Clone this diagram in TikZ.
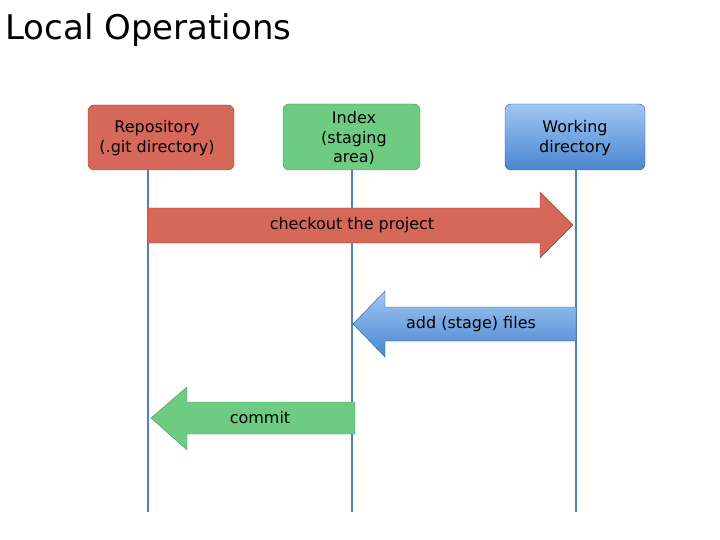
\documentclass[tikz,border=0pt]{standalone}
\usepackage{fontspec}
\setmainfont{DejaVu Sans}
\begin{document}
\begin{tikzpicture}[x=1pt,y=-1pt,
  lbl/.style={font=\fontsize{16}{19.5}\selectfont,align=center},
  life/.style={draw={rgb,255:red,79;green,129;blue,189},line width=2pt}]
\useasboundingbox (0,0) rectangle (720,540);
\definecolor{rr}{RGB}{214,104,90}
\definecolor{gg}{RGB}{110,204,130}
\definecolor{bb}{RGB}{74,134,208}
\definecolor{bl}{RGB}{160,198,242}
\node[anchor=west,font=\fontsize{34}{38}\selectfont] (t) at (2,30) {Local Operations};
% lifelines
\coordinate (r1) at (148,170); \coordinate (r2) at (148,512);
\coordinate (i1) at (352,170); \coordinate (i2) at (352,512);
\coordinate (w1) at (576,170); \coordinate (w2) at (576,512);
\draw[life] (r1)--(r2); \draw[life] (i1)--(i2); \draw[life] (w1)--(w2);
% boxes
\fill[rr,draw=rr!70!black,rounded corners=6pt] (88,105) rectangle (234,170);
\node[lbl] (rep) at (157,138) {Repository\\(.git directory)};
\fill[gg,draw=gg!70!black,rounded corners=6pt] (283,104) rectangle (420,170);
\node[lbl] (idx) at (354,138) {Index\\(staging\\area)};
\shade[top color=bl,bottom color=bb,draw=bb!70!black,rounded corners=6pt] (505,104) rectangle (645,170);
\node[lbl,text=black] (wd) at (575,138) {Working\\directory};
% arrows
\fill[rr,draw=rr!70!black] (148,208)--(540,208)--(540,192)--(573,225)--(540,258)--(540,243)--(148,243)--cycle;
\node[lbl] (a1) at (352,225) {checkout the project};
\shade[top color=bl,bottom color=bb,draw=bb!70!black] (576,307)--(385,307)--(385,291)--(353,324)--(385,357)--(385,341)--(576,341)--cycle;
\node[lbl] (a2) at (471,324) {add (stage) files};
\fill[gg,draw=gg!70!black] (355,402)--(187,402)--(187,387)--(151,418)--(187,450)--(187,434)--(355,434)--cycle;
\node[lbl] (a3) at (260,418) {commit};
\end{tikzpicture}
\end{document}
